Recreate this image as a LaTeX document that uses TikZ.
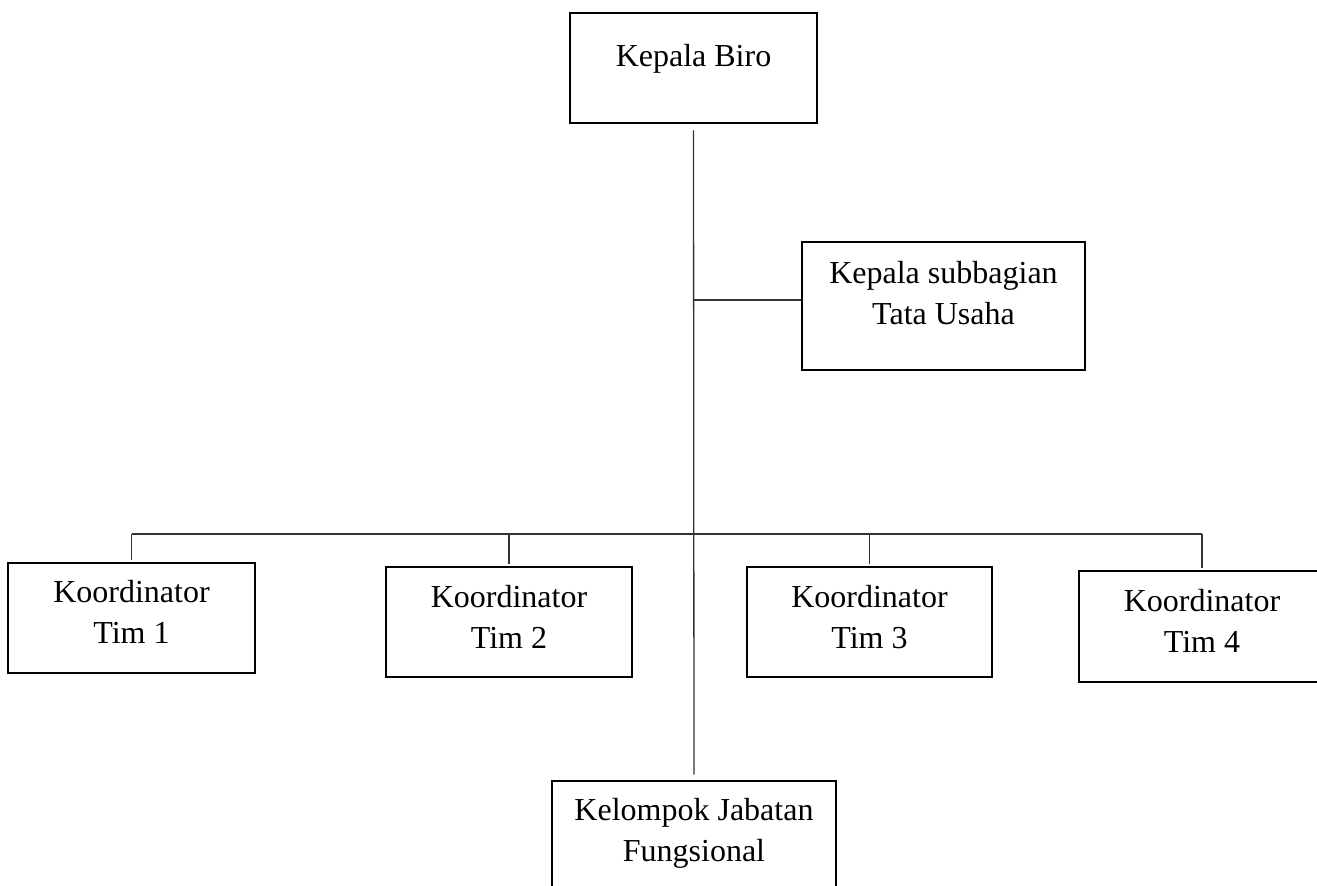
\documentclass[tikz,border=0pt]{standalone}
\usepackage{fontspec}
\setmainfont{Liberation Serif}
\usepackage{tikz}
\usetikzlibrary{positioning}
% raised two-line label inside a box
\newcommand{\orgText}[2]{\raisebox{#1}[\height][\depth]{\begin{tabular}{@{}c@{}}#2\end{tabular}}}
\tikzset{
    orgBox/.style={
        draw,
        line width=1.3pt,
        inner sep=0pt,
        minimum width=123pt,
        minimum height=55pt,
        font=\fontsize{16}{20.5}\selectfont
    },
    orgWide/.style={
        orgBox,
        minimum width=141.5pt,
        minimum height=64pt
    },
    orgLine/.style={
        draw=black!80,
        line width=0.65pt
    }
}

\begin{document}
\begin{tikzpicture}[x=0.5pt,y=-0.5pt]
    \useasboundingbox (0,0) rectangle (1317,885);
    \clip (0,0) rectangle (1317,885);

    \node[orgBox,minimum width=123.5pt] (biro) at (693.5,68) {\orgText{5pt}{Kepala Biro}};
    \node[orgWide] (tu) at (943.5,306) {\orgText{5pt}{Kepala subbagian\\Tata Usaha}};

    \node[orgBox,minimum width=123.5pt] (k1) at (131.5,618) {\orgText{1.6pt}{Koordinator\\Tim 1}};
    \node[orgBox] (k2) at (509,622) {\orgText{1.3pt}{Koordinator\\Tim 2}};
    \node[orgBox,minimum width=122.5pt] (k3) at (869.5,622) {\orgText{1.3pt}{Koordinator\\Tim 3}};
    \node[orgBox,minimum height=55.5pt] (k4) at (1202,626.5) {\orgText{1.3pt}{Koordinator\\Tim 4}};

    \node[orgWide,minimum width=142pt] (kjf) at (694,845) {\orgText{6pt}{Kelompok Jabatan\\Fungsional}};

    \coordinate (tuJoin) at ([yshift=3pt]tu.west);
    \coordinate (busMid) at (692,534);

    \draw[orgLine,shorten <=3pt,shorten >=2.5pt] (biro.south) -- (kjf.north);
    \draw[orgLine] (biro.south |- tuJoin) -- (tuJoin);
    \draw[orgLine] (k1.north |- busMid) -- (k4.north |- busMid);
    \foreach \k in {k1,k2,k3,k4}
        \draw[orgLine,shorten >=1pt] (\k.north |- busMid) -- (\k.north);
\end{tikzpicture}
\end{document}
